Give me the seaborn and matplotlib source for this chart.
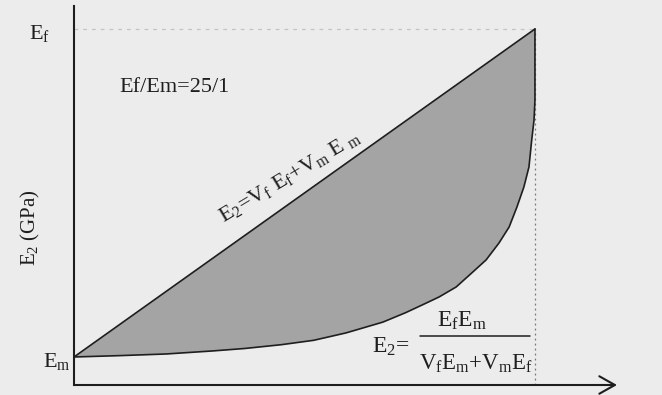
import matplotlib
matplotlib.use("Agg")

import matplotlib.pyplot as plt
import seaborn as sns

W, H = 662, 395

# upper bound (rule of mixtures): straight line Em -> Ef
vf_upper = [0.0, 1.0]
e_upper = [1.0, 25.0]

# lower bound (inverse rule of mixtures)
vf_lower = [0.00, 0.10, 0.20, 0.30, 0.37, 0.45, 0.52, 0.59, 0.67, 0.72,
            0.755, 0.792, 0.829, 0.863, 0.894, 0.922, 0.944, 0.961, 0.976,
            0.987, 0.993, 0.998, 1.00, 1.00]
e_lower = [1.00, 1.10, 1.22, 1.44, 1.62, 1.90, 2.22, 2.76, 3.55, 4.25,
           4.80, 5.39, 6.12, 7.15, 8.10, 9.34, 10.51, 11.98, 13.44,
           14.90, 16.88, 18.34, 19.80, 25.0]

sns.set_theme(style="white")
plt.rcParams["font.family"] = ["Liberation Serif", "DejaVu Serif"]
plt.rcParams["mathtext.fontset"] = "custom"
plt.rcParams["mathtext.rm"] = "Liberation Serif"
plt.rcParams["mathtext.it"] = "Liberation Serif:italic"

BG = "#ececec"
INK = "#1e1e1e"


def px(x, y):
    return x / W, 1 - y / H


fig = plt.figure(figsize=(W / 100, H / 100), dpi=100, facecolor=BG)
ax = fig.add_axes([74 / W, 1 - 385 / H, (617 - 74) / W, (385 - 6) / H])
ax.set_facecolor(BG)

# shaded band between the two bounds
ax.fill(vf_lower + vf_upper[::-1], e_lower + e_upper[::-1],
        color="#a4a4a4", lw=0, zorder=1)
sns.lineplot(x=vf_lower, y=e_lower, estimator=None, sort=False,
             color=INK, lw=1.2, ax=ax, zorder=3, solid_joinstyle="round")
sns.lineplot(x=vf_upper, y=e_upper, estimator=None, sort=False,
             color=INK, lw=1.2, ax=ax, zorder=3)

ax.set_xlim(0, 1.178)
ax.set_ylim(-1.05, 26.68)

# faint guide lines to Ef
ax.vlines(vf_upper[-1], ax.get_ylim()[0], e_upper[-1], color="#777777",
          lw=0.9, ls=(0, (1.5, 2.5)), zorder=2)
ax.hlines(e_upper[-1], 0, vf_upper[-1], color="#c4c4c4",
          lw=0.9, ls=(0, (3, 4)), zorder=2)

# axes: left spine + arrow for x
for s in ["top", "right", "bottom"]:
    ax.spines[s].set_visible(False)
ax.spines["left"].set_color(INK)
ax.spines["left"].set_linewidth(1.5)
ax.set_xticks([])
ax.set_yticks([])
ax.annotate("", xy=(1, 0), xytext=(0, 0), xycoords="axes fraction",
            arrowprops=dict(arrowstyle="->,head_length=0.8,head_width=0.45",
                            mutation_scale=14, color=INK, lw=1.5,
                            shrinkA=0, shrinkB=0))

# labels
fig.text(*px(39, 33), r"E$_\mathrm{f}$", ha="center", va="center", size=16, color=INK)
fig.text(*px(57, 362), r"E$_\mathrm{m}$", ha="center", va="center", size=16, color=INK)
fig.text(*px(175, 88), "Ef/Em=25/1", ha="center", va="center", size=16, color=INK)
fig.text(*px(30, 228), r"E$_2$ (GPa)", ha="center", va="center", size=15,
         rotation=90, color=INK)

ax.text(0.4685, 14.24, r"E$_2$=V$_\mathrm{f}$ E$_\mathrm{f}$+V$_\mathrm{m}$ E $_\mathrm{m}$",
        ha="center", va="center", size=16, rotation=31,
        rotation_mode="anchor", color=INK)

fig.text(*px(391, 347), r"E$_2$=", ha="center", va="center", size=17, color=INK)
fig.text(*px(462, 321), r"E$_\mathrm{f}$E$_\mathrm{m}$", ha="center", va="center",
         size=17, color=INK)
fig.text(*px(476, 364), r"V$_\mathrm{f}$E$_\mathrm{m}$+V$_\mathrm{m}$E$_\mathrm{f}$",
         ha="center", va="center", size=16.5, color=INK)
fig.add_artist(plt.Line2D([420 / W, 530 / W], [1 - 336 / H] * 2,
                          color=INK, lw=1.1))

fig.savefig("out.png", dpi=100, facecolor=BG)
